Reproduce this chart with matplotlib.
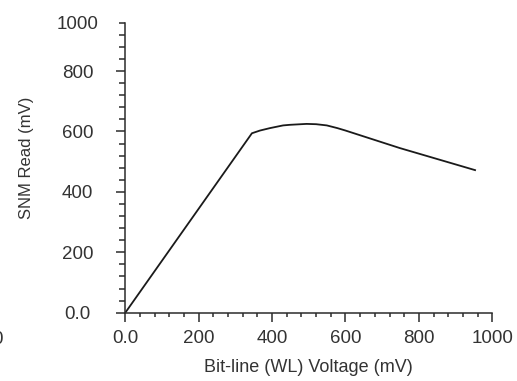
import matplotlib
matplotlib.use("Agg")
import matplotlib.pyplot as plt
from matplotlib.ticker import MultipleLocator, FixedLocator

plt.rcParams['font.family'] = ['Liberation Sans', 'DejaVu Sans']

# Data
bitline_mv = [0, 345, 367, 394, 430, 449, 494, 520, 549, 578, 600, 748, 953]
snm_read_mv = [0, 594, 603, 611, 620, 622, 625, 624, 620, 611, 603, 545, 472]

x_ticks = [0, 200, 400, 600, 800, 1000]
x_ticklabels = ['0.0', '200', '400', '600', '800', '1000']
y_ticks = [0, 200, 400, 600, 800, 960]
y_ticklabels = ['0.0', '200', '400', '600', '800', '1000']

W, H = 517, 381
fig = plt.figure(figsize=(W / 100, H / 100), dpi=100)
ax = fig.add_axes([125.3 / W, 1 - 312.7 / H, 367 / W, 290 / H])

ink = '#2b2b2b'
txt = '#333333'

ax.plot(bitline_mv, snm_read_mv, color='#1a1a1a', lw=1.3, solid_joinstyle='round')

ax.set_xlim(0, 1000)
ax.set_ylim(0, 960)
for s in ['top', 'right']:
    ax.spines[s].set_visible(False)
for s in ['left', 'bottom']:
    ax.spines[s].set_color(ink)
    ax.spines[s].set_linewidth(1.1)
    ax.spines[s].set_clip_on(False)

ax.xaxis.set_major_locator(FixedLocator(x_ticks))
ax.set_xticklabels(x_ticklabels)
ax.xaxis.set_minor_locator(MultipleLocator(40))
ax.yaxis.set_major_locator(FixedLocator(y_ticks))
ax.set_yticklabels(y_ticklabels)
ax.yaxis.set_minor_locator(MultipleLocator(40))

ax.tick_params(axis='both', which='both', direction='out', color=ink, width=1.1, labelcolor=txt, labelsize=13.5)
ax.tick_params(axis='x', which='major', length=6.5, pad=6)
ax.tick_params(axis='x', which='minor', length=3)
ax.tick_params(axis='y', which='major', length=6.7, pad=27.5)
ax.tick_params(axis='y', which='minor', length=4.5)
for lab in ax.get_yticklabels():
    lab.set_ha('center')
# top tick of y axis is short
ax.yaxis.get_major_ticks()[-1].tick1line.set_markersize(4.5)

ax.set_xlabel('Bit-line (WL) Voltage (mV)', fontsize=13, color=txt)
ax.set_ylabel('SNM Read (mV)', fontsize=12, color=txt)
ax.xaxis.set_label_coords(0.5, -(368 - 312.7) / 290)
ax.xaxis.label.set_va('center')
ax.yaxis.set_label_coords((26 - 125.3) / 367, (312.7 - 158) / 290)
ax.yaxis.label.set_rotation_mode('default')
ax.yaxis.label.set_va('center')
ax.yaxis.label.set_ha('center')

# clipped tick label from a neighbouring panel at the left edge
fig.text(3 / W, 1 - 340 / H, '0', ha='right', va='center', fontsize=13.5, color=txt)

fig.savefig('out.png', dpi=100)
